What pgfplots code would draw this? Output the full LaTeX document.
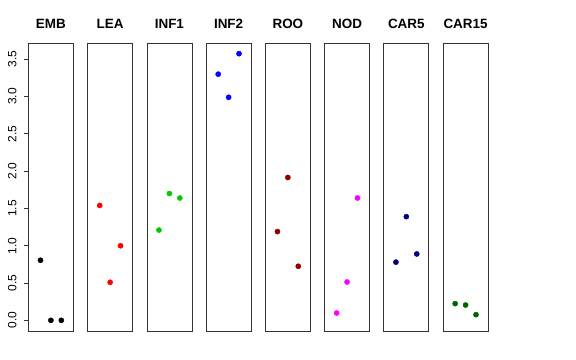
\documentclass[border=0pt]{standalone}
\usepackage{pgfplots}
\pgfplotsset{compat=1.18}
\usepackage{fontspec}
\setmainfont{Liberation Sans}
\definecolor{rgreen}{HTML}{00CD00}
\definecolor{rdarkred}{HTML}{8B0000}
\definecolor{rnavy}{HTML}{000080}
\definecolor{rdarkgreen}{HTML}{006400}
\definecolor{rmagenta}{HTML}{FF00FF}
\definecolor{rred}{HTML}{FF0000}
\definecolor{rblue}{HTML}{0000FF}
\pgfplotsset{
  panel/.style={
    scale only axis, width=45bp, height=287.7bp,
    xmin=-0.16, xmax=4.16, ymin=-0.143, ymax=3.714,
    xtick=\empty, ytick=\empty,
    axis line style={black!80, line width=0.75bp},
    anchor=south west,
    title style={font=\bfseries\fontsize{13.5}{15}\selectfont, at={(0.5,1)}, anchor=base, yshift=9.3bp, inner sep=0pt},
  },
  pts/.style={only marks, mark=*, mark size=2.6bp, color=#1, mark options={draw=#1, fill=#1}},
}
\begin{document}
\begin{tikzpicture}
\path[use as bounding box] (0,0) rectangle (576bp,360bp);
\begin{axis}[panel, at={(28.4bp,29bp)}, title={EMB},
  ytick={0,0.5,1,1.5,2,2.5,3,3.5}, ytick pos=left, tick align=outside,
  major tick length=4bp, tick style={black!80, line width=0.75bp},
  /pgf/number format/assume math mode=true,
  yticklabel shift=8bp,
  yticklabel style={font=\fontsize{12}{14}\selectfont, rotate=90, anchor=base, inner sep=0pt,
    /pgf/number format/.cd, fixed, fixed zerofill, precision=1}]
\addplot[pts=black] coordinates {(1,0.805) (2,0) (3,0)};
\end{axis}
\begin{axis}[panel, at={(87.64bp,29bp)}, title={LEA}]
\addplot[pts=rred] coordinates {(1,1.54) (2,0.51) (3,1.00)};
\end{axis}
\begin{axis}[panel, at={(146.88bp,29bp)}, title={INF1}]
\addplot[pts=rgreen] coordinates {(1,1.21) (2,1.70) (3,1.64)};
\end{axis}
\begin{axis}[panel, at={(206.12bp,29bp)}, title={INF2}]
\addplot[pts=rblue] coordinates {(1,3.30) (2,2.99) (3,3.575)};
\end{axis}
\begin{axis}[panel, at={(265.36bp,29bp)}, title={ROO}]
\addplot[pts=rdarkred] coordinates {(1,1.19) (2,1.915) (3,0.725)};
\end{axis}
\begin{axis}[panel, at={(324.6bp,29bp)}, title={NOD}]
\addplot[pts=rmagenta] coordinates {(1,0.098) (2,0.514) (3,1.64)};
\end{axis}
\begin{axis}[panel, at={(383.84bp,29bp)}, title={CAR5}]
\addplot[pts=rnavy] coordinates {(1,0.78) (2,1.39) (3,0.89)};
\end{axis}
\begin{axis}[panel, at={(443.08bp,29bp)}, title={CAR15}]
\addplot[pts=rdarkgreen] coordinates {(1,0.224) (2,0.205) (3,0.076)};
\end{axis}
\end{tikzpicture}
\end{document}
